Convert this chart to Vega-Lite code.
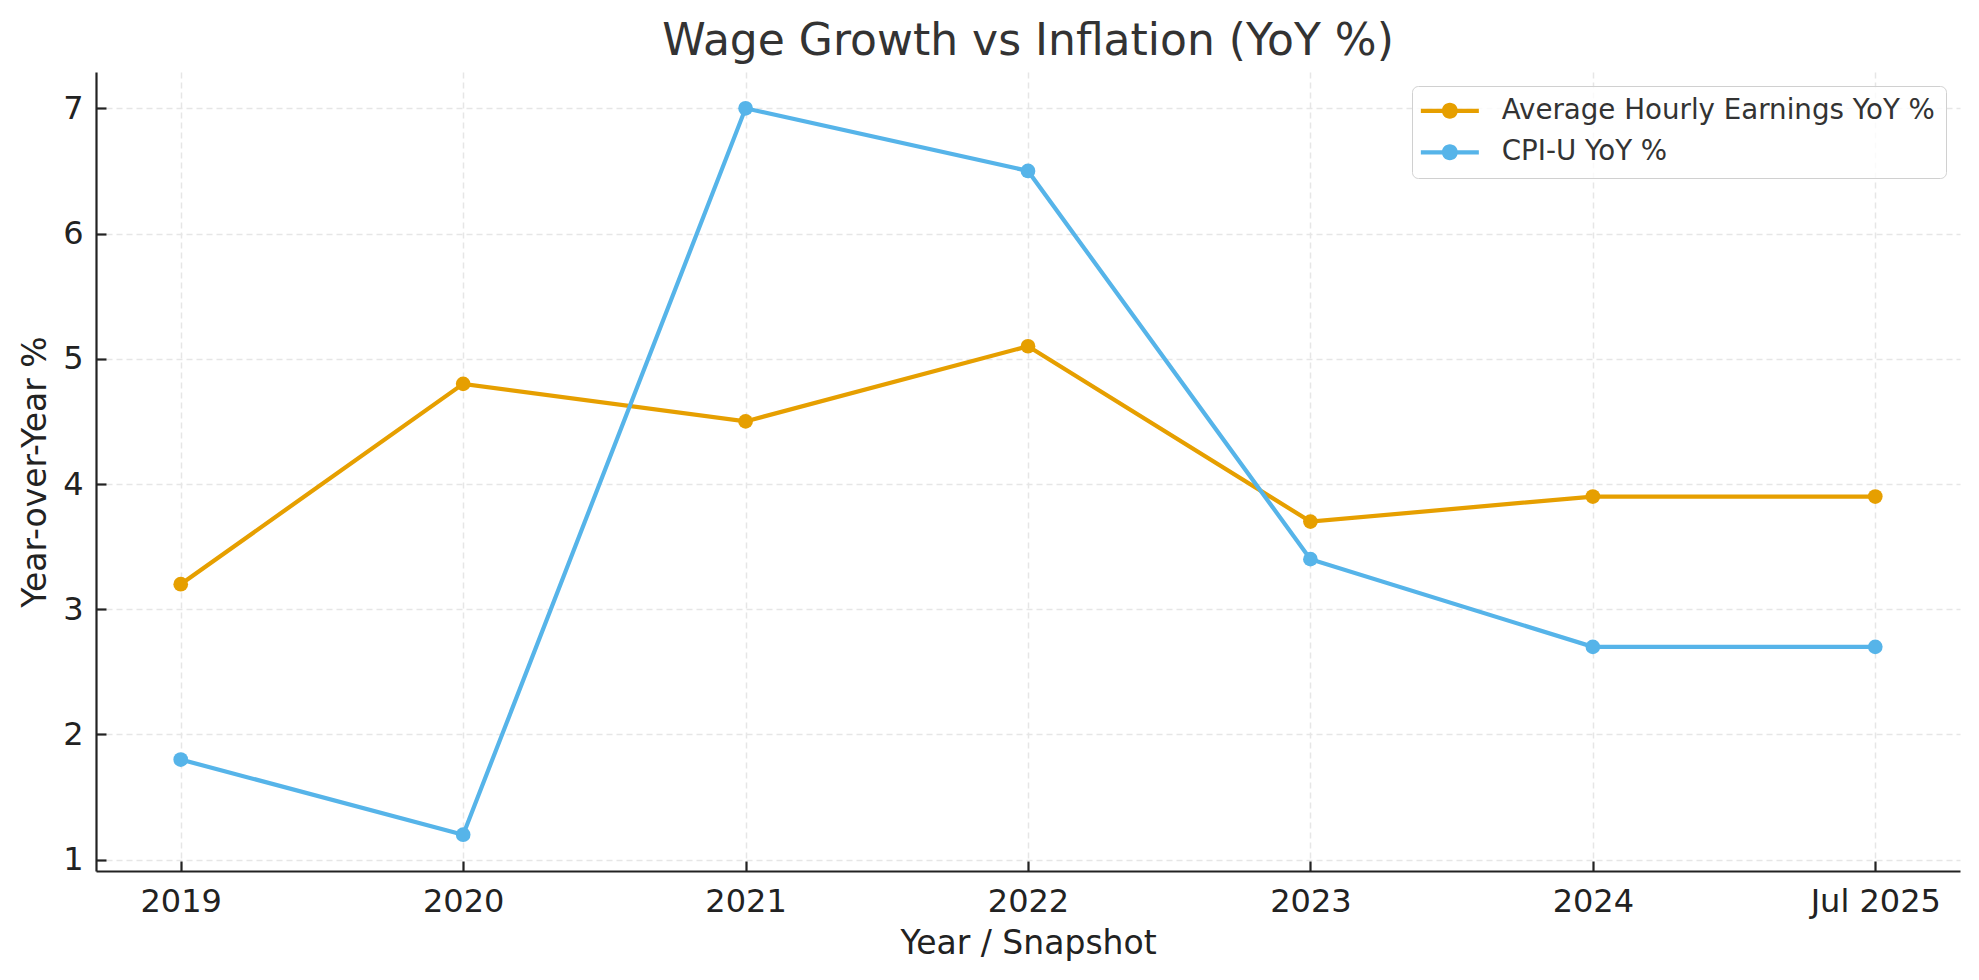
{
  "$schema": "https://vega.github.io/schema/vega-lite/v6.json",
  "width": 1864,
  "height": 799,
  "autosize": {"type": "none"},
  "padding": {"left": 96, "top": 72, "right": 19, "bottom": 109},
  "background": "white",
  "config": {
    "font": "DejaVu Sans",
    "view": {"stroke": null}
  },
  "title": {
    "text": "Wage Growth vs Inflation (YoY %)",
    "fontSize": 44,
    "fontWeight": "normal",
    "color": "#333333",
    "anchor": "middle",
    "offset": 8
  },
  "data": {
    "values": [
      {"period": "2019", "series": "Average Hourly Earnings YoY %", "value": 3.2},
      {"period": "2020", "series": "Average Hourly Earnings YoY %", "value": 4.8},
      {"period": "2021", "series": "Average Hourly Earnings YoY %", "value": 4.5},
      {"period": "2022", "series": "Average Hourly Earnings YoY %", "value": 5.1},
      {"period": "2023", "series": "Average Hourly Earnings YoY %", "value": 3.7},
      {"period": "2024", "series": "Average Hourly Earnings YoY %", "value": 3.9},
      {"period": "Jul 2025", "series": "Average Hourly Earnings YoY %", "value": 3.9},
      {"period": "2019", "series": "CPI-U YoY %", "value": 1.8},
      {"period": "2020", "series": "CPI-U YoY %", "value": 1.2},
      {"period": "2021", "series": "CPI-U YoY %", "value": 7.0},
      {"period": "2022", "series": "CPI-U YoY %", "value": 6.5},
      {"period": "2023", "series": "CPI-U YoY %", "value": 3.4},
      {"period": "2024", "series": "CPI-U YoY %", "value": 2.7},
      {"period": "Jul 2025", "series": "CPI-U YoY %", "value": 2.7}
    ]
  },
  "mark": {
    "type": "line",
    "strokeWidth": 4.2,
    "point": {"filled": true, "size": 216, "opacity": 1}
  },
  "encoding": {
    "x": {
      "field": "period",
      "type": "ordinal",
      "sort": ["2019", "2020", "2021", "2022", "2023", "2024", "Jul 2025"],
      "scale": {"type": "point", "padding": 0.3},
      "axis": {
        "title": "Year / Snapshot",
        "titleFontSize": 33,
        "titleFontWeight": "normal",
        "titleColor": "#222222",
        "titlePadding": 10,
        "labelFontSize": 32,
        "labelColor": "#222222",
        "labelAngle": 0,
        "labelPadding": 25,
        "tickSize": -10,
        "tickWidth": 2.2,
        "tickColor": "#222222",
        "domainColor": "#222222",
        "domainWidth": 2.2,
        "grid": true,
        "gridColor": "#e6e6e6",
        "gridWidth": 1.5,
        "gridDash": [6, 4]
      }
    },
    "y": {
      "field": "value",
      "type": "quantitative",
      "scale": {"domain": [0.91, 7.29], "nice": false, "zero": false},
      "axis": {
        "title": "Year-over-Year %",
        "titleFontSize": 33,
        "titleFontWeight": "normal",
        "titleColor": "#222222",
        "titlePadding": 10,
        "values": [1, 2, 3, 4, 5, 6, 7],
        "labelFontSize": 32,
        "labelColor": "#222222",
        "labelPadding": 23,
        "tickSize": -10,
        "tickWidth": 2.2,
        "tickColor": "#222222",
        "domainColor": "#222222",
        "domainWidth": 2.2,
        "grid": true,
        "gridColor": "#e6e6e6",
        "gridWidth": 1.5,
        "gridDash": [6, 4]
      }
    },
    "color": {
      "field": "series",
      "type": "nominal",
      "scale": {
        "domain": ["Average Hourly Earnings YoY %", "CPI-U YoY %"],
        "range": ["#E69F00", "#56B4E9"]
      },
      "legend": {
        "title": null,
        "orient": "top-right",
        "offset": 14,
        "symbolType": "M-2,-0.26H5.25V0.26H-2Z M0.625,0A1,1,0,1,1,2.625,0A1,1,0,1,1,0.625,0Z",
        "symbolSize": 256,
        "symbolStrokeWidth": 0,
        "labelFontSize": 27.7,
        "labelColor": "#333333",
        "labelOffset": 51,
        "labelLimit": 0,
        "rowPadding": 12.5,
        "padding": 11,
        "strokeColor": "#d0d0d0",
        "fillColor": "rgba(255,255,255,0.8)",
        "cornerRadius": 6,
        "encode": {
          "symbols": {
            "update": {
              "fill": {"scale": "color", "field": "value"},
              "stroke": {"value": "transparent"},
              "opacity": {"value": 1}
            }
          }
        }
      }
    }
  }
}
